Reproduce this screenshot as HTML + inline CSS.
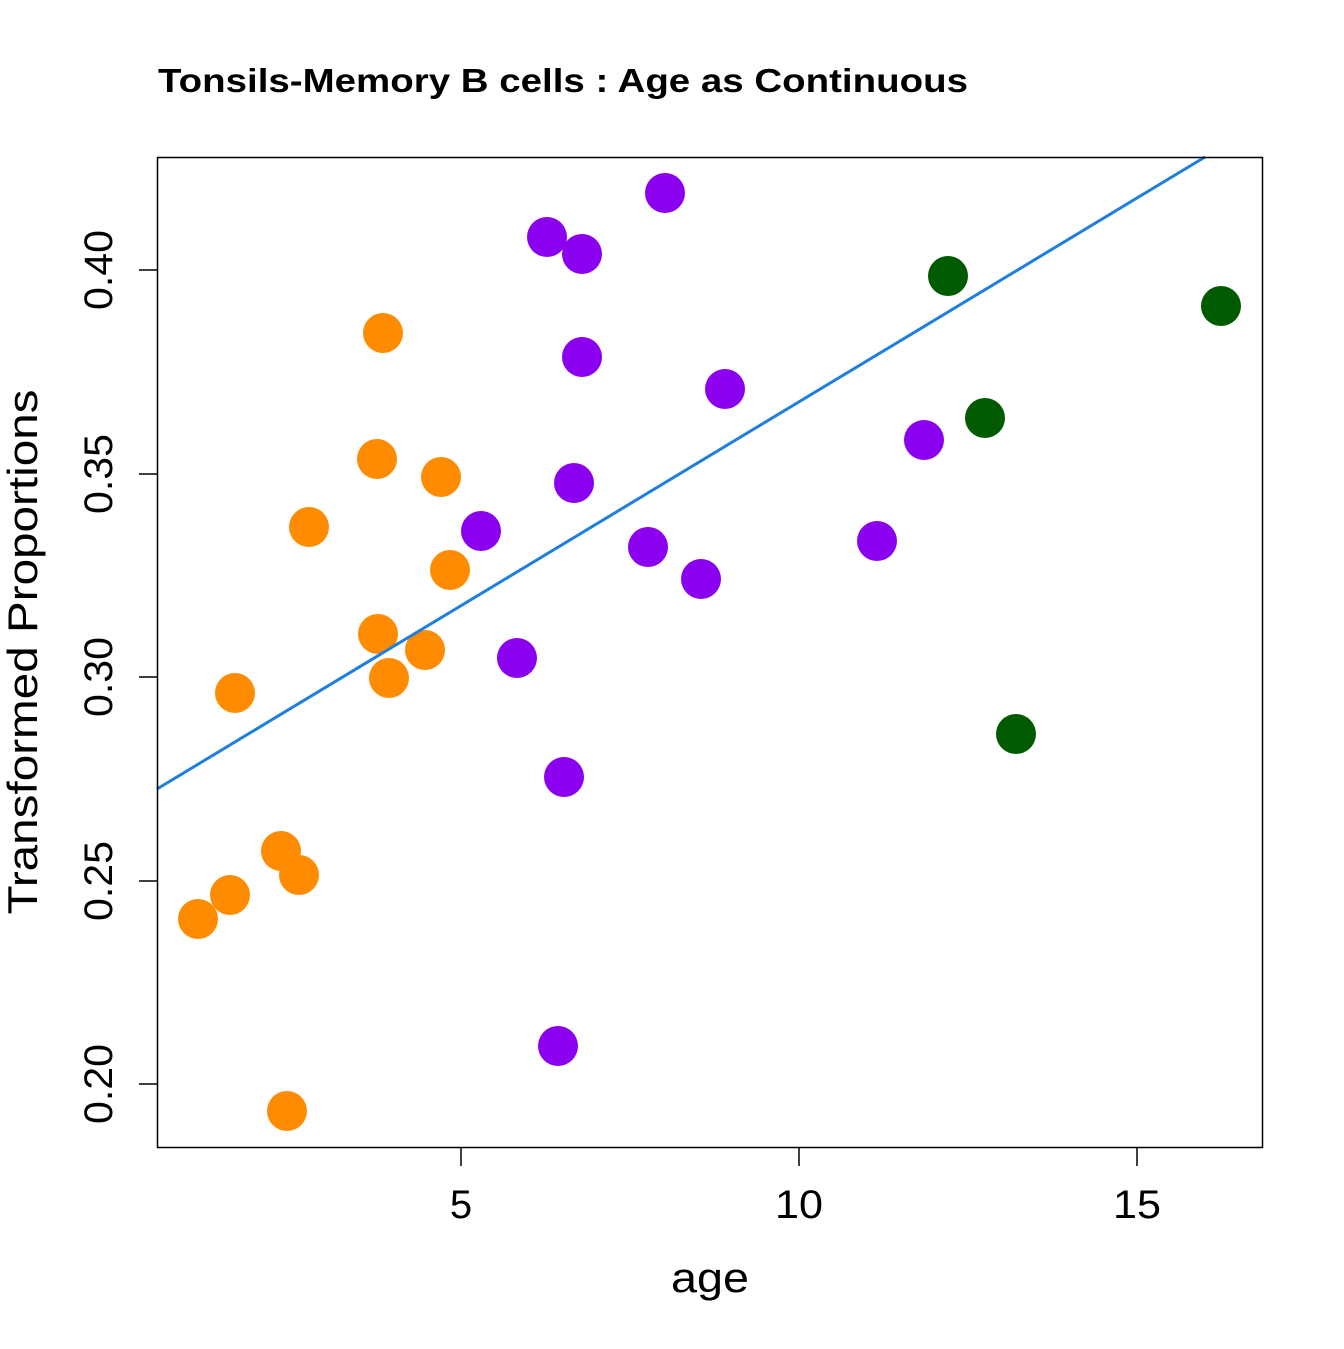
<!DOCTYPE html>
<html><head><meta charset="utf-8"><style>html,body{margin:0;padding:0;background:#fff}</style></head>
<body>
<svg width="1344" height="1344" xmlns="http://www.w3.org/2000/svg" font-family="Liberation Sans, Arial, sans-serif">
<rect width="1344" height="1344" fill="#fff"/>
<text x="158" y="92" font-size="33" font-weight="bold" textLength="810" lengthAdjust="spacingAndGlyphs">Tonsils-Memory B cells : Age as Continuous</text>
<g fill="#FF8C00">
<circle cx="383" cy="333" r="20"/><circle cx="377" cy="459" r="20"/><circle cx="441" cy="477" r="20"/><circle cx="309" cy="527" r="20"/><circle cx="450" cy="570" r="20"/><circle cx="378" cy="634" r="20"/><circle cx="425" cy="650" r="20"/><circle cx="389" cy="678" r="20"/><circle cx="235" cy="693" r="20"/><circle cx="281" cy="851" r="20"/><circle cx="299" cy="875" r="20"/><circle cx="230" cy="895" r="20"/><circle cx="198" cy="919" r="20"/><circle cx="287" cy="1111" r="20"/>
</g>
<g fill="#8B00EE">
<circle cx="665" cy="193" r="20"/><circle cx="547" cy="237" r="20"/><circle cx="582" cy="254" r="20"/><circle cx="582" cy="357" r="20"/><circle cx="725" cy="389" r="20"/><circle cx="924" cy="440" r="20"/><circle cx="574" cy="483" r="20"/><circle cx="481" cy="531" r="20"/><circle cx="648" cy="547" r="20"/><circle cx="877" cy="541" r="20"/><circle cx="701" cy="579" r="20"/><circle cx="517" cy="658" r="20"/><circle cx="564" cy="777" r="20"/><circle cx="558" cy="1046" r="20"/>
</g>
<g fill="#005A00">
<circle cx="948" cy="276" r="20"/><circle cx="1221" cy="306" r="20"/><circle cx="985" cy="418" r="20"/><circle cx="1016" cy="734" r="20"/>
</g>
<line x1="157" y1="789" x2="1205" y2="157" stroke="#1E7FE0" stroke-width="3"/>
<rect x="157.5" y="157.5" width="1105" height="990" fill="none" stroke="#000" stroke-width="1.5"/>
<g stroke="#000" stroke-width="1.5">
<line x1="461" y1="1148" x2="461" y2="1166"/><line x1="799" y1="1148" x2="799" y2="1166"/><line x1="1137" y1="1148" x2="1137" y2="1166"/>
<line x1="139" y1="1084" x2="157" y2="1084"/><line x1="139" y1="881" x2="157" y2="881"/><line x1="139" y1="677" x2="157" y2="677"/><line x1="139" y1="474" x2="157" y2="474"/><line x1="139" y1="270" x2="157" y2="270"/>
</g>
<g font-size="40" text-anchor="middle">
<text x="461" y="1218">5</text>
<text x="799" y="1218" textLength="48" lengthAdjust="spacingAndGlyphs">10</text>
<text x="1137" y="1218" textLength="48" lengthAdjust="spacingAndGlyphs">15</text>
<text transform="translate(112,1084) rotate(-90)" textLength="80" lengthAdjust="spacingAndGlyphs">0.20</text>
<text transform="translate(112,881) rotate(-90)" textLength="80" lengthAdjust="spacingAndGlyphs">0.25</text>
<text transform="translate(112,677) rotate(-90)" textLength="80" lengthAdjust="spacingAndGlyphs">0.30</text>
<text transform="translate(112,474) rotate(-90)" textLength="80" lengthAdjust="spacingAndGlyphs">0.35</text>
<text transform="translate(112,270) rotate(-90)" textLength="80" lengthAdjust="spacingAndGlyphs">0.40</text>
<text x="710" y="1292" font-size="42" textLength="78" lengthAdjust="spacingAndGlyphs">age</text>
<text transform="translate(37,652) rotate(-90)" font-size="42" textLength="525" lengthAdjust="spacingAndGlyphs">Transformed Proportions</text>
</g>
</svg>
</body></html>
